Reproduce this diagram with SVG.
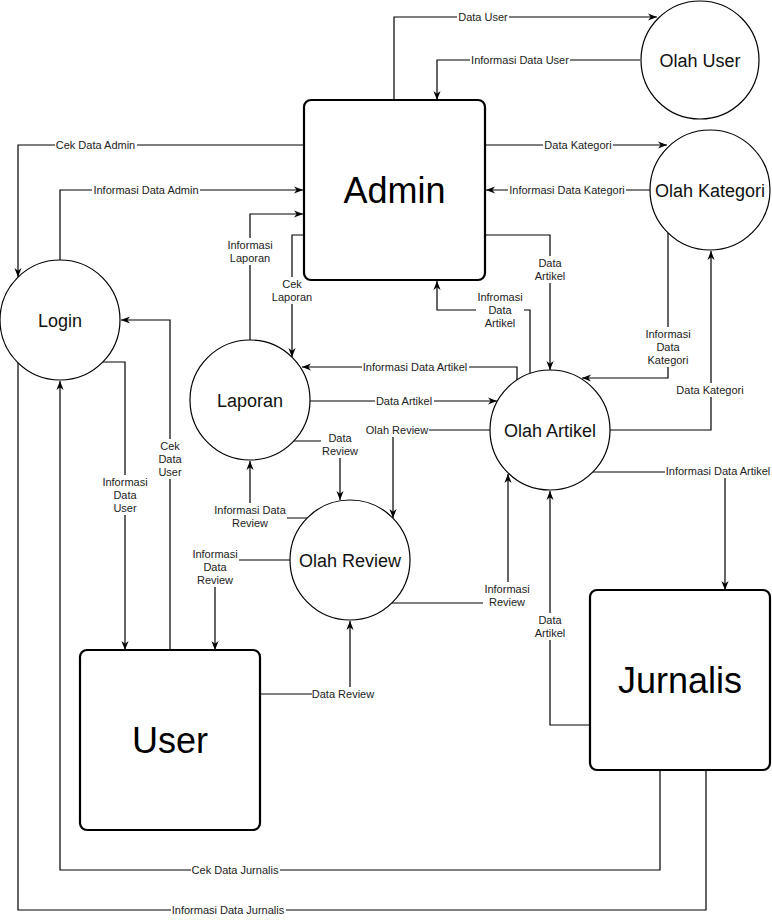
<svg xmlns="http://www.w3.org/2000/svg" width="772" height="920" viewBox="0 0 772 920">
<defs>
<marker id="arr" viewBox="0 0 10 10" refX="10" refY="5" markerWidth="9" markerHeight="9" orient="auto" markerUnits="userSpaceOnUse">
<path d="M0,1 L10,5 L0,9 L3,5 z" fill="#000"/>
</marker>
<style>
.c{fill:none;stroke:#000;stroke-width:1.2}
.a{marker-end:url(#arr)}
.bg{fill:#fff}
.l{font-family:"Liberation Sans",Arial,Helvetica,sans-serif;font-size:11px;fill:#222;text-anchor:middle}
.proc{fill:#fff;stroke:#000;stroke-width:1.2}
.ent{fill:#fff;stroke:#000;stroke-width:2.2}
.pt{font-family:"Liberation Sans",Arial,Helvetica,sans-serif;font-size:18px;fill:#111;text-anchor:middle}
.et{font-family:"Liberation Sans",Arial,Helvetica,sans-serif;font-size:36px;fill:#000;text-anchor:middle}
</style>
</defs>
<rect width="772" height="920" fill="#fff"/>

<g id="connectors">
<path class="c a" d="M394,100 V17 H657"/>
<path class="c a" d="M640,60 H437 V100"/>
<path class="c a" d="M485,145 H667"/>
<path class="c a" d="M650,190 H486"/>
<path class="c a" d="M485,235 H550 V370"/>
<path class="c a" d="M530,373 V310 H437 V281"/>
<path class="c a" d="M304,145 H18 V277"/>
<path class="c a" d="M60,260 V190 H303"/>
<path class="c a" d="M250,340 V214 H303"/>
<path class="c a" d="M304,235 H292 V357"/>
<path class="c a" d="M517,380 V367 H302"/>
<path class="c a" d="M310,401 H497"/>
<path class="c a" d="M490,430 H393 V518"/>
<path class="c a" d="M294,441 H340 V500"/>
<path class="c a" d="M307,518 H250 V461"/>
<path class="c a" d="M290,560 H215 V650"/>
<path class="c a" d="M260,694 H350 V621"/>
<path class="c a" d="M392,603 H508 V474"/>
<path class="c a" d="M590,725 H550 V491"/>
<path class="c a" d="M593,472 H725 V590"/>
<path class="c a" d="M610,430 H711 V251"/>
<path class="c a" d="M668,233 V378 H582"/>
<path class="c a" d="M103,362 H125 V650"/>
<path class="c a" d="M170,650 V320 H121"/>
<path class="c a" d="M660,770 V870 H60 V381"/>
<path class="c" d="M18,363 V910 H706 V770"/>

<g id="labels">
<rect class="bg" x="457" y="10" width="52" height="14"/><text class="l" x="483" y="21">Data User</text>
<rect class="bg" x="470" y="53" width="100" height="14"/><text class="l" x="520" y="64">Informasi Data User</text>
<rect class="bg" x="543" y="138" width="70" height="14"/><text class="l" x="578" y="149">Data Kategori</text>
<rect class="bg" x="508" y="183" width="118" height="14"/><text class="l" x="567" y="194">Informasi Data Kategori</text>
<rect class="bg" x="534" y="256" width="33" height="27"/><text class="l" x="550" y="267">Data<tspan x="550" dy="13">Artikel</tspan></text>
<rect class="bg" x="476" y="290" width="48" height="40"/><text class="l" x="500" y="301">Infromasi<tspan x="500" dy="13">Data</tspan><tspan x="500" dy="13">Artikel</tspan></text>
<rect class="bg" x="55" y="138" width="82" height="14"/><text class="l" x="95.5" y="149">Cek Data Admin</text>
<rect class="bg" x="92" y="183" width="108" height="14"/><text class="l" x="146" y="194">Informasi Data Admin</text>
<rect class="bg" x="226" y="238" width="48" height="27"/><text class="l" x="250" y="249">Informasi<tspan x="250" dy="13">Laporan</tspan></text>
<rect class="bg" x="271" y="277" width="43" height="27"/><text class="l" x="292" y="288">Cek<tspan x="292" dy="13">Laporan</tspan></text>
<rect class="bg" x="362" y="360" width="107" height="14"/><text class="l" x="415" y="371">Informasi Data Artikel</text>
<rect class="bg" x="375" y="394" width="59" height="14"/><text class="l" x="404" y="405">Data Artikel</text>
<rect class="bg" x="365" y="423" width="64" height="14"/><text class="l" x="397" y="434">Olah Review</text>
<rect class="bg" x="321" y="431" width="38" height="27"/><text class="l" x="340" y="442">Data<tspan x="340" dy="13">Review</tspan></text>
<rect class="bg" x="213" y="503" width="74" height="27"/><text class="l" x="250" y="514">Informasi Data<tspan x="250" dy="13">Review</tspan></text>
<rect class="bg" x="191" y="547" width="48" height="40"/><text class="l" x="215" y="558">Informasi<tspan x="215" dy="13">Data</tspan><tspan x="215" dy="13">Review</tspan></text>
<rect class="bg" x="312" y="687" width="64" height="14"/><text class="l" x="343" y="698">Data Review</text>
<rect class="bg" x="483" y="582" width="48" height="27"/><text class="l" x="507" y="593">Informasi<tspan x="507" dy="13">Review</tspan></text>
<rect class="bg" x="534" y="613" width="33" height="27"/><text class="l" x="550" y="624">Data<tspan x="550" dy="13">Artikel</tspan></text>
<rect class="bg" x="665" y="464" width="107" height="14"/><text class="l" x="718" y="475">Informasi Data Artikel</text>
<rect class="bg" x="676" y="383" width="69" height="14"/><text class="l" x="710" y="394">Data Kategori</text>
<rect class="bg" x="645" y="327" width="47" height="40"/><text class="l" x="668" y="338">Informasi<tspan x="668" dy="13">Data</tspan><tspan x="668" dy="13">Kategori</tspan></text>
<rect class="bg" x="101" y="475" width="48" height="40"/><text class="l" x="125" y="486">Informasi<tspan x="125" dy="13">Data</tspan><tspan x="125" dy="13">User</tspan></text>
<rect class="bg" x="154" y="439" width="32" height="40"/><text class="l" x="170" y="450">Cek<tspan x="170" dy="13">Data</tspan><tspan x="170" dy="13">User</tspan></text>
<rect class="bg" x="191" y="863" width="89" height="14"/><text class="l" x="235" y="874">Cek Data Jurnalis</text>
<rect class="bg" x="171" y="903" width="115" height="14"/><text class="l" x="228" y="914">Informasi Data Jurnalis</text>
</g>
</g>

<g id="admin"><rect class="ent" x="304" y="100" width="181" height="180" rx="7"/><text class="et" x="394.5" y="203">Admin</text></g>
<g id="user"><rect class="ent" x="80" y="650" width="180" height="180" rx="7"/><text class="et" x="170" y="753">User</text></g>
<g id="jurnalis"><rect class="ent" x="590" y="590" width="180" height="180" rx="7"/><text class="et" x="680" y="693">Jurnalis</text></g>
<g id="olah-user"><circle class="proc" cx="700" cy="60" r="59"/><text class="pt" x="700" y="66.5">Olah User</text></g>
<g id="olah-kategori"><circle class="proc" cx="710" cy="190" r="60"/><text class="pt" x="710" y="196.5">Olah Kategori</text></g>
<g id="login"><circle class="proc" cx="60" cy="320" r="60"/><text class="pt" x="60" y="326.5">Login</text></g>
<g id="laporan"><circle class="proc" cx="250" cy="400" r="60"/><text class="pt" x="250" y="406.5">Laporan</text></g>
<g id="olah-review"><circle class="proc" cx="350" cy="560" r="60"/><text class="pt" x="350" y="566.5">Olah Review</text></g>
<g id="olah-artikel"><circle class="proc" cx="550" cy="430" r="60"/><text class="pt" x="550" y="436.5">Olah Artikel</text></g>
</svg>
